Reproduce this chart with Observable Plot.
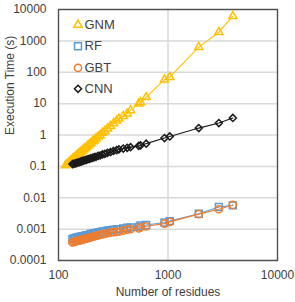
<!DOCTYPE html>
<html>
<head>
<meta charset="utf-8">
<script src="https://cdn.jsdelivr.net/npm/d3@7"></script>
<script src="https://cdn.jsdelivr.net/npm/@observablehq/plot@0.6"></script>
<style>
  html, body { margin: 0; padding: 0; background: #fff; }
  #chart svg { display: block; }
</style>
</head>
<body>
<div id="chart"></div>
<script>
const residues = [116,120,125,130,134,138,142,146,150,154,158,162,166,170,175,180,186,192,198,205,212,220,230,240,252,265,280,298,318,340,356,390,424,455,540,561,632,929,1038,1910,2913,3908];

const gnm = [0.108,0.12,0.136,0.152,0.17,0.182,0.2,0.22,0.235,0.258,0.275,0.3,0.32,0.35,0.375,0.41,0.46,0.5,0.55,0.62,0.67,0.77,0.88,0.98,1.16,1.32,1.6,1.9,2.35,2.85,3.3,4.0,4.8,6.1,10.0,11.0,16,58,70,630,1890,6100];

const cnn = [null,null,null,null,0.118,0.12,0.125,0.127,0.133,0.135,0.142,0.143,0.15,0.151,0.158,0.161,0.17,0.173,0.182,0.186,0.197,0.202,0.216,0.222,0.24,0.25,0.27,0.284,0.31,0.33,0.35,0.37,0.39,0.41,0.45,0.47,0.53,0.8,0.9,1.66,2.4,3.5];

const rf = [null,null,null,null,0.00048,0.0005,0.0005,0.00053,0.00054,0.00056,0.00055,0.00058,0.0006,0.00059,0.00062,0.00064,0.00064,0.00067,0.0007,0.0007,0.00074,0.00075,0.00079,0.0008,0.00084,0.00085,0.0009,0.00092,0.00096,0.00098,0.001,0.00105,0.0011,0.00114,0.00118,0.0013,0.00135,0.00163,0.0018,0.0031,0.0051,0.0057];

const gbt = [null,null,null,null,0.00038,0.00039,0.0004,0.00042,0.00042,0.00044,0.00044,0.00046,0.00046,0.00048,0.00049,0.0005,0.00052,0.00053,0.00055,0.00057,0.00059,0.00061,0.00063,0.00066,0.00068,0.00071,0.00074,0.00077,0.0008,0.00082,0.00083,0.0009,0.00096,0.001,0.00105,0.00114,0.00123,0.0015,0.0017,0.003,0.0043,0.0059];

const xTicks = [100, 1000, 10000];
const yTicks = [0.0001, 0.001, 0.01, 0.1, 1, 10, 100, 1000, 10000];

const seriesNames = ["GNM", "RF", "GBT", "CNN"];
const seriesValues = [gnm, rf, gbt, cnn];
const seriesColors = ["#FFC000", "#5B9BD5", "#ED7D31", "#1a1a1a"];
const seriesSymbols = ["triangle2", "square2", "circle", "diamond2"];
const seriesR = [3.9, 4.4, 3.6, 3.2];

const rows = seriesNames.map((name, i) =>
  residues.map((n, j) => ({name, n, t: seriesValues[i][j]})).filter(d => d.t != null)
);

const textColor = "#404040";
const marks = [];

marks.push(Plot.ruleY(yTicks, {stroke: "#d9d9d9", strokeWidth: 1.5}));
marks.push(Plot.ruleX([1000], {stroke: "#d9d9d9", strokeWidth: 1.5}));
marks.push(Plot.frame({stroke: "#505050", strokeWidth: 1.4}));

rows.forEach((data, i) => {
  marks.push(Plot.line(data, {x: "n", y: "t", stroke: seriesColors[i], strokeWidth: 1.1}));
  marks.push(Plot.dot(data, {
    x: "n", y: "t",
    symbol: seriesSymbols[i], r: seriesR[i],
    stroke: seriesColors[i], fill: "white", fillOpacity: i === 0 ? 0 : 0.0,
    strokeWidth: 1.5
  }));
});

// legend inside the plot
const legendDy = [15.3, 36.7, 58.3, 79.3];
seriesNames.forEach((name, i) => {
  marks.push(Plot.dot([name], {
    frameAnchor: "top-left", dx: 19.5, dy: legendDy[i],
    symbol: seriesSymbols[i], r: seriesR[i],
    stroke: seriesColors[i], fill: "none", strokeWidth: 1.5
  }));
  marks.push(Plot.text([name], {
    text: d => d, frameAnchor: "top-left", dx: 26, dy: legendDy[i],
    textAnchor: "start", lineAnchor: "middle", fontSize: 13, fill: textColor
  }));
});

// axes
marks.push(Plot.axisY(yTicks, {
  tickSize: 0, tickPadding: 12, tickFormat: d => String(d),
  fontSize: 12, fill: textColor, label: null
}));
marks.push(Plot.axisX(xTicks, {
  tickSize: 0, tickPadding: 10, tickFormat: d => String(d),
  fontSize: 12, fill: textColor, label: null
}));
marks.push(Plot.text(["Number of residues"], {
  text: d => d, frameAnchor: "bottom", dy: 32, lineAnchor: "middle",
  fontSize: 12, fill: textColor
}));
marks.push(Plot.text(["Execution Time (s)"], {
  text: d => d, frameAnchor: "left", dx: -48, rotate: -90, lineAnchor: "middle",
  fontSize: 12, fill: textColor
}));

const chart = Plot.plot({
  width: 295,
  height: 302,
  marginLeft: 58,
  marginRight: 18,
  marginTop: 9,
  marginBottom: 42,
  style: {fontFamily: "'Liberation Sans', Arial, sans-serif", background: "white"},
  x: {type: "log", domain: [100, 10000], axis: null},
  y: {type: "log", domain: [0.0001, 10000], axis: null},
  marks
});
document.getElementById("chart").appendChild(chart);
</script>
</body>
</html>
